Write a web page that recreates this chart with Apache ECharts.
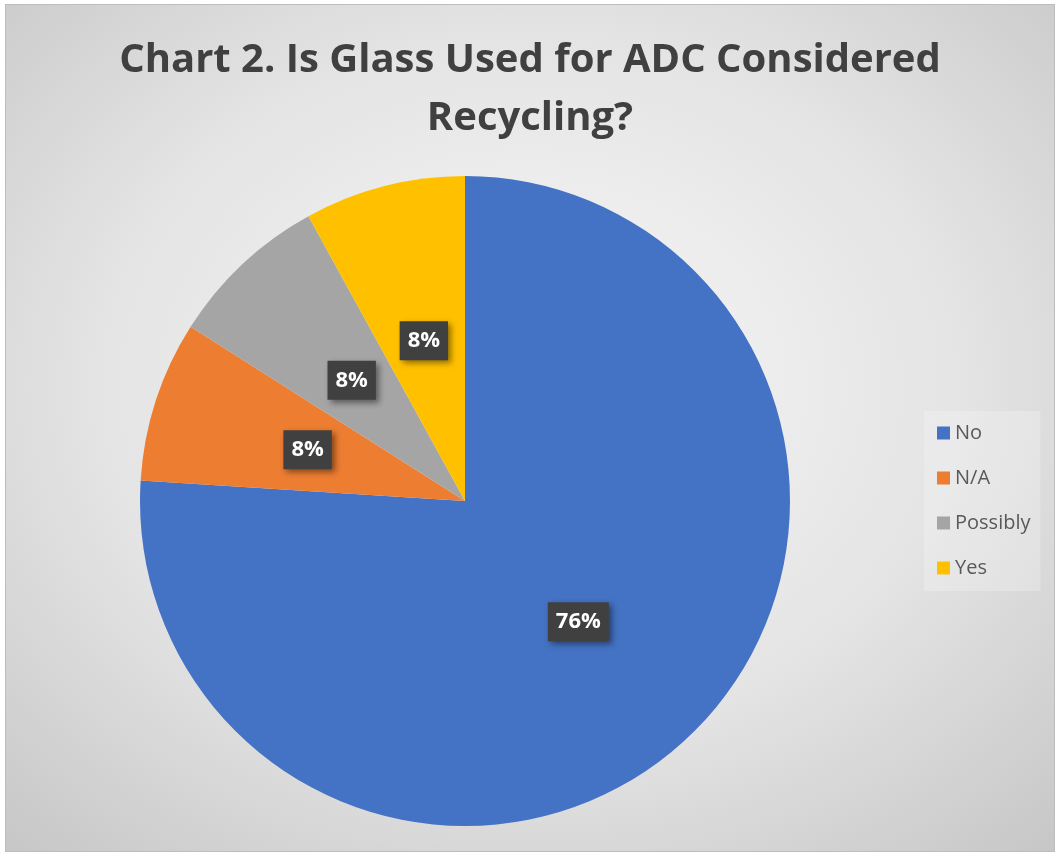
<!DOCTYPE html>
<html>
<head>
<meta charset="utf-8">
<script src="https://cdn.jsdelivr.net/npm/echarts@6/dist/echarts.min.js"></script>
<style>
  html, body { margin: 0; padding: 0; background: #ffffff; }
  #wrap { position: absolute; left: 0; top: 0; width: 1055px; height: 852px; background: #ffffff; }
  #chart {
    position: absolute; left: 5px; top: 4px; width: 1050px; height: 848px;
    box-sizing: border-box; border: 1px solid #bdbdbd;
    background: radial-gradient(ellipse 75% 75% at 50% 45%, #f8f8f8 0%, #e4e4e4 55%, #c6c6c6 100%);
  }
</style>
</head>
<body>
<div id="wrap"><div id="chart"></div></div>
<script>
const titleText = "Chart 2. Is Glass Used for ADC Considered\nRecycling?";
const categories = ["No", "N/A", "Possibly", "Yes"];
const values = [19, 2, 2, 2];
const colors = ["#4472C4", "#ED7D31", "#A5A5A5", "#FFC000"];

const FONT = "'Open Sans', 'Noto Sans', sans-serif";
const chart = echarts.init(document.getElementById('chart'), null, { renderer: 'canvas' });
chart.setOption({
  backgroundColor: 'transparent',
  animation: false,
  title: {
    text: titleText,
    left: 'center',
    top: 22,
    textStyle: {
      fontFamily: FONT, fontWeight: 'bold', fontSize: 40, color: '#404040', lineHeight: 58
    }
  },
  legend: {
    orient: 'vertical',
    left: 918,
    top: 406,
    padding: [12, 10, 13, 13],
    backgroundColor: 'rgba(255,255,255,0.22)',
    itemWidth: 13,
    itemHeight: 13,
    itemGap: 25,
    icon: 'rect',
    data: categories,
    textStyle: { fontFamily: FONT, fontSize: 20, color: '#595959', lineHeight: 20, padding: [0, 0, 0, 0] }
  },
  series: [{
    type: 'pie',
    center: [459, 496],
    radius: [0, 325],
    startAngle: 90,
    clockwise: true,
    color: colors,
    label: {
      show: true,
      position: 'inside',
      formatter: function (p) { return Math.round(p.percent) + '%'; },
      fontFamily: FONT,
      fontWeight: 'bold',
      fontSize: 22,
      color: '#ffffff',
      backgroundColor: '#404040',
      padding: [9, 8, 8, 8],
      shadowColor: 'rgba(0,0,0,0.45)',
      shadowBlur: 6,
      shadowOffsetX: 3,
      shadowOffsetY: 3
    },
    labelLine: { show: false },
    emphasis: { disabled: true },
    itemStyle: { borderWidth: 0 },
    data: categories.map((c, i) => ({ name: c, value: values[i] }))
  }]
});
</script>
</body>
</html>
